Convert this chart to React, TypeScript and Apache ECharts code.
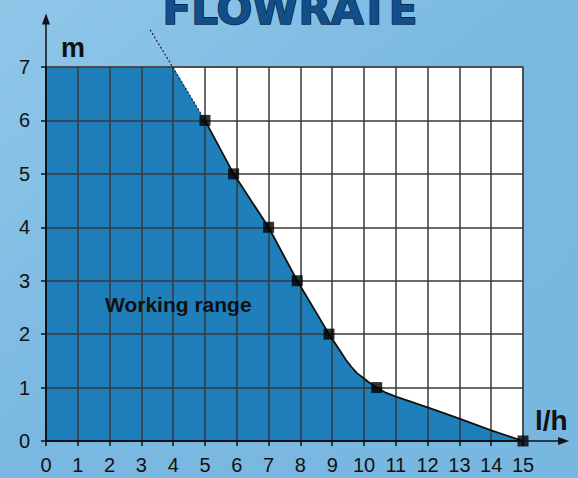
import React, { useEffect, useRef } from "react";
import * as echarts from "echarts";

// Marked operating points (flow in l/h, head in m)
const pointFlow = [5, 5.9, 7, 7.9, 8.9, 10.4, 15];
const pointHead = [6, 5, 4, 3, 2, 1, 0];

// Curve traced between and through the marked points
const curveFlow = [5, 5.9, 7, 7.9, 8.9, 9.2, 9.43, 9.6, 9.78, 10.0, 10.13, 10.4, 10.7, 11.05, 12, 13, 14, 15];
const curveHead = [6, 5, 4, 3, 2, 1.73, 1.52, 1.39, 1.27, 1.17, 1.11, 1, 0.9, 0.82, 0.63, 0.42, 0.2, 0];

// Flat top of the working range (max head)
const topFlow = [0, 4];
const topHead = [7, 7];

// Dotted extension of the curve above the chart
const extFlow = [5, 3.25];
const extHead = [6, 7.72];

const xMin = 0, xMax = 15, yMin = 0, yMax = 7;
const axisEnd = [16.45, 8];
const workingLabelPos = [4.16, 2.55];

const FONT = "'Liberation Sans', Arial, sans-serif";

export default function App() {
  const ref = useRef<HTMLDivElement>(null);
  useEffect(() => {
    const chart = echarts.init(ref.current!, null, { renderer: "svg" });
    const zip = (a: number[], b: number[]) => a.map((v, i) => [v, b[i]]);
    const areaData = [...zip(topFlow, topHead), ...zip(curveFlow, curveHead)];
    chart.setOption({
      animation: false,
      backgroundColor: new echarts.graphic.LinearGradient(0, 0, 1, 1, [
        { offset: 0, color: "#8fc7e9" },
        { offset: 0.5, color: "#7ab8e1" },
        { offset: 1, color: "#78b7e0" },
      ]),
      grid: {
        left: 46,
        right: 55,
        top: 67,
        bottom: 37,
        show: true,
        backgroundColor: "#ffffff",
        borderColor: "#8a8a8a",
        borderWidth: 2,
      },
      xAxis: {
        type: "value",
        min: xMin,
        max: xMax,
        interval: 1,
        z: 5,
        name: "l/h",
        nameLocation: "end",
        nameGap: 12,
        nameTextStyle: {
          fontFamily: FONT,
          fontSize: 28,
          fontWeight: "bold",
          color: "#111",
          verticalAlign: "bottom",
          align: "left",
          padding: [0, 0, 7, 0],
        },
        axisLine: { show: true, lineStyle: { color: "#111", width: 1.5 } },
        axisTick: { show: true, length: 5, lineStyle: { color: "#111", width: 1.5 } },
        axisLabel: { fontFamily: FONT, fontSize: 20, color: "#111", margin: 14 },
        splitLine: { show: true, lineStyle: { color: "#3a3a3a", width: 1.5 } },
      },
      yAxis: {
        type: "value",
        min: yMin,
        max: yMax,
        interval: 1,
        z: 5,
        name: "m",
        nameLocation: "end",
        nameGap: 6,
        nameTextStyle: {
          fontFamily: FONT,
          fontSize: 27,
          fontWeight: "bold",
          color: "#111",
          align: "left",
          padding: [0, 0, 0, 15],
        },
        axisLine: { show: true, lineStyle: { color: "#111", width: 1.5 } },
        axisTick: { show: true, length: 5, lineStyle: { color: "#111", width: 1.5 } },
        axisLabel: { fontFamily: FONT, fontSize: 20, color: "#111", margin: 16 },
        splitLine: { show: true, lineStyle: { color: "#3a3a3a", width: 1.5 } },
      },
      series: [
        {
          name: "Working range",
          type: "line",
          data: areaData,
          z: 2,
          symbol: "none",
          lineStyle: { width: 0 },
          areaStyle: { color: "#1f7fba", opacity: 1 },
        },
        {
          name: "extension",
          type: "line",
          data: zip(extFlow, extHead),
          z: 6,
          clip: false,
          symbol: "none",
          lineStyle: { color: "#222", width: 1.2, type: [2, 2] },
        },
        {
          name: "curve",
          type: "line",
          data: zip(curveFlow, curveHead),
          z: 6,
          symbol: "none",
          lineStyle: { color: "#111", width: 1.8 },
        },
        {
          name: "points",
          type: "scatter",
          data: zip(pointFlow, pointHead),
          z: 8,
          clip: false,
          symbol: "rect",
          symbolSize: 11,
          itemStyle: { color: "#000" },
        },
      ],
    });

    const px = (v: number[]) => chart.convertToPixel({ gridIndex: 0 }, v) as number[];
    const o = px([0, 0]);
    const xe = px([axisEnd[0], 0]);
    const ye = px([0, axisEnd[1]]);
    const wl = px(workingLabelPos);
    chart.setOption({
      graphic: [
        {
          type: "line",
          z: 20,
          shape: { x1: o[0], y1: o[1], x2: xe[0] - 4, y2: xe[1] },
          style: { stroke: "#111", lineWidth: 1.5 },
        },
        {
          type: "polygon",
          z: 20,
          shape: { points: [[xe[0] - 11, xe[1] - 4], [xe[0], xe[1]], [xe[0] - 11, xe[1] + 4]] },
          style: { fill: "#111" },
        },
        {
          type: "line",
          z: 20,
          shape: { x1: o[0], y1: o[1], x2: ye[0], y2: ye[1] + 4 },
          style: { stroke: "#111", lineWidth: 1.5 },
        },
        {
          type: "polygon",
          z: 20,
          shape: { points: [[ye[0] - 4, ye[1] + 11], [ye[0], ye[1]], [ye[0] + 4, ye[1] + 11]] },
          style: { fill: "#111" },
        },
        {
          type: "text",
          z: 20,
          x: wl[0],
          y: wl[1],
          style: {
            text: "Working range",
            fontFamily: FONT,
            fontSize: 21,
            fontWeight: "bold",
            fill: "#111",
            align: "center",
            verticalAlign: "middle",
          },
        },
        {
          type: "text",
          z: 20,
          x: 290,
          y: 9,
          style: {
            text: "FLOWRATE",
            fontFamily: "'DejaVu Sans', sans-serif",
            fontSize: 42,
            fontWeight: "bold",
            fill: "#124f88",
            stroke: "#07274a",
            lineWidth: 1.6,
            align: "center",
            verticalAlign: "middle",
            shadowColor: "rgba(3,25,50,0.85)",
            shadowOffsetX: 2,
            shadowOffsetY: 2,
            shadowBlur: 1,
          },
        },
      ],
    });
    return () => chart.dispose();
  }, []);
  return (
    <div
      ref={ref}
      style={{ position: "absolute", left: 0, top: 0, width: 578, height: 478 }}
    />
  );
}
